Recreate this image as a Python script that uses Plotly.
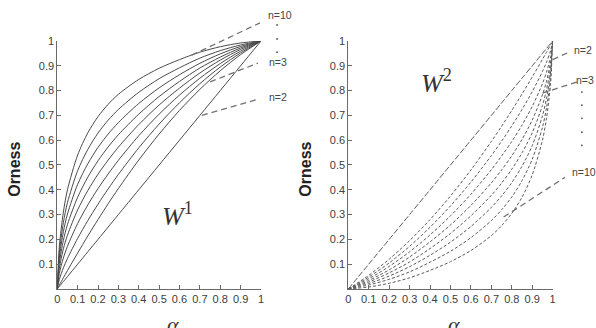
import plotly.graph_objects as go

# ---------------- data ----------------
alpha_w1 = [0, 0.01, 0.03, 0.05, 0.1, 0.15, 0.2, 0.25, 0.3, 0.4, 0.5, 0.6, 0.7, 0.8, 0.9, 1]
w1_curves = {
    "n=2":  [0, 0.01, 0.03, 0.05, 0.1, 0.15, 0.2, 0.25, 0.3, 0.4, 0.5, 0.6, 0.7, 0.8, 0.9, 1],
    "n=3":  [0, 0.015, 0.045, 0.074, 0.145, 0.214, 0.28, 0.344, 0.405, 0.52, 0.625, 0.72, 0.805, 0.88, 0.945, 1],
    "n=4":  [0, 0.038, 0.085, 0.123, 0.204, 0.276, 0.342, 0.404, 0.462, 0.569, 0.665, 0.751, 0.828, 0.895, 0.952, 1],
    "n=5":  [0, 0.062, 0.125, 0.172, 0.264, 0.339, 0.405, 0.464, 0.519, 0.618, 0.705, 0.782, 0.85, 0.909, 0.959, 1],
    "n=6":  [0, 0.083, 0.162, 0.217, 0.319, 0.397, 0.463, 0.52, 0.572, 0.663, 0.742, 0.81, 0.871, 0.923, 0.966, 1],
    "n=7":  [0, 0.103, 0.196, 0.26, 0.37, 0.451, 0.517, 0.573, 0.622, 0.705, 0.776, 0.837, 0.891, 0.935, 0.972, 1],
    "n=8":  [0, 0.124, 0.231, 0.302, 0.422, 0.505, 0.571, 0.625, 0.671, 0.748, 0.811, 0.864, 0.91, 0.948, 0.978, 1],
    "n=9":  [0, 0.145, 0.268, 0.348, 0.477, 0.563, 0.629, 0.681, 0.724, 0.793, 0.848, 0.892, 0.931, 0.961, 0.984, 1],
    "n=10": [0, 0.17, 0.31, 0.40, 0.54, 0.63, 0.695, 0.745, 0.785, 0.845, 0.89, 0.925, 0.955, 0.977, 0.992, 1],
}

alpha_w2 = [0, 0.1, 0.2, 0.3, 0.4, 0.5, 0.6, 0.7, 0.75, 0.8, 0.85, 0.9, 0.95, 0.97, 0.99, 1]
w2_curves = {
    "n=2":  [0, 0.1, 0.2, 0.3, 0.4, 0.5, 0.6, 0.7, 0.75, 0.8, 0.85, 0.9, 0.95, 0.97, 0.99, 1],
    "n=3":  [0, 0.055, 0.12, 0.195, 0.28, 0.375, 0.48, 0.595, 0.656, 0.72, 0.786, 0.855, 0.926, 0.955, 0.985, 1],
    "n=4":  [0, 0.048, 0.105, 0.172, 0.249, 0.335, 0.431, 0.538, 0.596, 0.658, 0.724, 0.796, 0.877, 0.915, 0.962, 1],
    "n=5":  [0, 0.041, 0.091, 0.15, 0.218, 0.295, 0.382, 0.481, 0.536, 0.595, 0.661, 0.736, 0.828, 0.875, 0.938, 1],
    "n=6":  [0, 0.034, 0.077, 0.129, 0.19, 0.258, 0.337, 0.428, 0.48, 0.537, 0.603, 0.681, 0.783, 0.838, 0.917, 1],
    "n=7":  [0, 0.028, 0.065, 0.109, 0.163, 0.224, 0.295, 0.378, 0.427, 0.483, 0.549, 0.63, 0.74, 0.804, 0.897, 1],
    "n=8":  [0, 0.022, 0.052, 0.09, 0.136, 0.189, 0.252, 0.329, 0.375, 0.429, 0.495, 0.578, 0.698, 0.769, 0.876, 1],
    "n=9":  [0, 0.016, 0.039, 0.069, 0.108, 0.152, 0.207, 0.276, 0.319, 0.371, 0.437, 0.523, 0.652, 0.732, 0.855, 1],
    "n=10": [0, 0.008, 0.023, 0.045, 0.075, 0.11, 0.155, 0.215, 0.255, 0.305, 0.37, 0.46, 0.60, 0.69, 0.83, 1],
}

x_tickvals = [0, 0.1, 0.2, 0.3, 0.4, 0.5, 0.6, 0.7, 0.8, 0.9, 1]
x_ticktext = ["0", "0.1", "0.2", "0.3", "0.4", "0.5", "0.6", "0.7", "0.8", "0.9", "1"]
y_tickvals = [0.1, 0.2, 0.3, 0.4, 0.5, 0.6, 0.7, 0.8, 0.9, 1]
y_ticktext = ["0.1", "0.2", "0.3", "0.4", "0.5", "0.6", "0.7", "0.8", "0.9", "1"]

# ---------------- figure ----------------
fig = go.Figure()

for name, vals in w1_curves.items():
    fig.add_trace(go.Scatter(
        x=alpha_w1, y=vals, mode="lines", name=name, xaxis="x", yaxis="y",
        line=dict(color="#4a4a4a", width=1, shape="spline", smoothing=0.8),
        showlegend=False, hoverinfo="skip"))

for name, vals in w2_curves.items():
    dash = "6px,2px" if name == "n=2" else "3px,2px"
    fig.add_trace(go.Scatter(
        x=alpha_w2, y=vals, mode="lines", name=name, xaxis="x2", yaxis="y2",
        line=dict(color="#5a5a5a", width=1, shape="spline", smoothing=0.8, dash=dash),
        showlegend=False, hoverinfo="skip"))

axis_common = dict(
    range=[0, 1], showgrid=False, zeroline=False, showline=True,
    linecolor="#6a6a6a", linewidth=1, ticks="inside", ticklen=4,
    tickcolor="#6a6a6a", tickwidth=1, automargin=False,
    tickfont=dict(family="Liberation Sans, Arial, sans-serif", size=11, color="#404040"),
)

dom_y = [0.119, 0.875]
fig.update_layout(
    width=596, height=328, margin=dict(l=0, r=0, t=0, b=0, pad=0),
    paper_bgcolor="white", plot_bgcolor="white", showlegend=False,
    xaxis=dict(domain=[0.0961, 0.4379], anchor="y", tickvals=x_tickvals,
               ticktext=x_ticktext, **axis_common),
    yaxis=dict(domain=dom_y, anchor="x", tickvals=y_tickvals,
               ticktext=y_ticktext, **axis_common),
    xaxis2=dict(domain=[0.5844, 0.9273], anchor="y2", tickvals=x_tickvals,
                ticktext=x_ticktext, **axis_common),
    yaxis2=dict(domain=dom_y, anchor="x2", tickvals=y_tickvals,
                ticktext=y_ticktext, **axis_common),
)

lead = dict(color="#707070", width=1.3, dash="6px,4px")
leaders = [
    ("x", "y", 0.66, 0.943, 0.995, 1.073),
    ("x", "y", 0.75, 0.835, 0.985, 0.911),
    ("x", "y", 0.71, 0.70, 0.985, 0.765),
    ("x2", "y2", 1.0, 0.925, 1.08, 0.955),
    ("x2", "y2", 0.95, 0.79, 1.12, 0.835),
    ("x2", "y2", 0.76, 0.29, 1.06, 0.45),
]
for xr, yr, x0, y0, x1, y1 in leaders:
    fig.add_shape(type="line", xref=xr + " domain", yref=yr + " domain",
                  x0=x0, y0=y0, x1=x1, y1=y1, line=lead)

dots = [("x", "y", 1.079, v) for v in (1.065, 1.008, 0.955)] + \
       [("x2", "y2", 1.143, v) for v in (0.794, 0.741, 0.688, 0.632, 0.579)]
for xr, yr, xa, ya in dots:
    fig.add_shape(type="circle", xref=xr + " domain", yref=yr + " domain",
                  xsizemode="pixel", ysizemode="pixel", xanchor=xa, yanchor=ya,
                  x0=-0.9, x1=0.9, y0=-0.9, y1=0.9,
                  fillcolor="#555555", line=dict(width=0))

lab_font = dict(family="Liberation Sans, Arial, sans-serif", size=10.5, color="#444444")
labels = [
    ("x", "y", 1.030, 1.105, "n=10"),
    ("x", "y", 1.035, 0.915, "n=3"),
    ("x", "y", 1.035, 0.773, "n=2"),
    ("x2", "y2", 1.10, 0.964, "n=2"),
    ("x2", "y2", 1.11, 0.842, "n=3"),
    ("x2", "y2", 1.09, 0.47, "n=10"),
]
for xr, yr, xa, ya, t in labels:
    fig.add_annotation(xref=xr + " domain", yref=yr + " domain", x=xa, y=ya,
                       text=t, showarrow=False, xanchor="left", yanchor="middle",
                       font=lab_font, borderpad=0)

title_font = dict(family="Liberation Sans, Arial, sans-serif", size=16, color="#222222")
for px in (0.025, 0.513):
    fig.add_annotation(xref="paper", yref="paper", x=px, y=0.485, text="<b>Orness</b>",
                       textangle=-90, showarrow=False, font=title_font,
                       xanchor="center", yanchor="middle")

alpha_font = dict(family="Liberation Serif, serif", size=22, color="#333333")
for px in (0.29, 0.762):
    fig.add_annotation(xref="paper", yref="paper", x=px, y=0.012, text="<i>α</i>",
                       showarrow=False, font=alpha_font, xanchor="center", yanchor="middle")

w_font = dict(family="Liberation Serif, serif", size=26, color="#333333")
fig.add_annotation(xref="paper", yref="paper", x=0.298, y=0.345, text="<i>W</i><sup>1</sup>",
                   showarrow=False, font=w_font, xanchor="center", yanchor="middle")
fig.add_annotation(xref="paper", yref="paper", x=0.733, y=0.752, text="<i>W</i><sup>2</sup>",
                   showarrow=False, font=w_font, xanchor="center", yanchor="middle")

fig.write_html("out.html", config={"displayModeBar": False},
               post_script="document.body.style.margin='0px';")
